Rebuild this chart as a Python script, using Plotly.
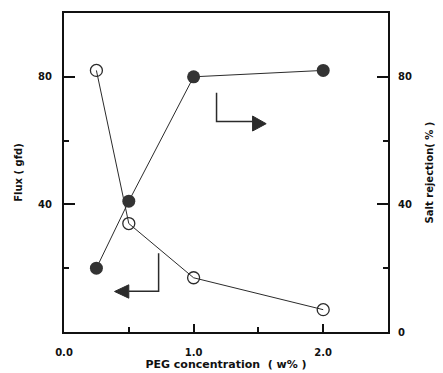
import plotly.graph_objects as go

# PEG concentration (w%)
peg = [0.25, 0.5, 1.0, 2.0]
# Flux (gfd), left axis - open circles
flux = [82, 34, 17, 7]
# Salt rejection (%), right axis - filled circles
rejection = [20, 41, 80, 82]

x_ticks = [0, 1, 2]
x_tick_text = ["0.0", "1.0", "2.0"]
left_ticks = [40, 80]
right_ticks = [0, 40, 80]

INK = "#2b2b2b"
FONT = dict(family="DejaVu Sans, Verdana, sans-serif", size=10, color="#111", weight="bold")

fig = go.Figure()

fig.add_trace(go.Scatter(
    x=peg, y=flux, mode="lines+markers", name="Flux",
    line=dict(color=INK, width=1),
    marker=dict(symbol="circle-open", size=12, color=INK, line=dict(width=1.3)),
    yaxis="y",
))
fig.add_trace(go.Scatter(
    x=peg, y=rejection, mode="lines+markers", name="Salt rejection",
    line=dict(color=INK, width=1),
    marker=dict(symbol="circle", size=13, color="#333333"),
    yaxis="y2",
))

# Direction arrows pointing each curve to its axis
def arrow(points, tip):
    path = "M " + " L ".join(f"{px},{py}" for px, py in points)
    fig.add_shape(type="path", path=path, xref="x", yref="y",
                  line=dict(color=INK, width=1.5))
    (bx, by1, by2, tx, ty) = tip
    tri = f"M {bx},{by1} L {tx},{ty} L {bx},{by2} Z"
    fig.add_shape(type="path", path=tri, xref="x", yref="y",
                  line=dict(color=INK, width=1), fillcolor=INK)

arrow([(1.177, 75), (1.177, 66), (1.455, 66)], (1.455, 67.7, 63.0, 1.56, 65.3))
arrow([(0.73, 24.7), (0.73, 12.8), (0.5, 12.8)], (0.5, 14.8, 10.6, 0.39, 12.7))

axis_common = dict(
    showline=True, linecolor="#111", linewidth=2,
    ticks="inside", tickcolor="#111", tickwidth=1.5,
    showgrid=False, zeroline=False, automargin=False,
    tickfont=FONT,
)

fig.update_layout(
    width=443, height=373,
    margin=dict(l=64, r=55, t=13, b=41),
    paper_bgcolor="white", plot_bgcolor="white",
    showlegend=False,
    xaxis=dict(
        axis_common, range=[0, 2.5], tickvals=x_ticks, ticktext=x_tick_text,
        ticklen=8, mirror=True, ticklabelstandoff=10,
        minor=dict(ticks="inside", tickvals=[0.5, 1.5], ticklen=5, tickcolor="#111", tickwidth=1.5),
        title=dict(text="PEG concentration  ( w% )", standoff=1,
                   font=dict(FONT, size=11)),
    ),
    yaxis=dict(
        axis_common, range=[0, 100], tickvals=left_ticks, ticklen=11,
        ticklabelstandoff=8,
        minor=dict(ticks="inside", tickvals=[20, 60], ticklen=5, tickcolor="#111", tickwidth=1.5),
        title=dict(text="Flux ( gfd)", standoff=14,
                   font=dict(FONT, size=10)),
    ),
    yaxis2=dict(
        axis_common, range=[0, 100], tickvals=right_ticks, ticklen=11,
        overlaying="y", side="right", ticklabelstandoff=6,
        minor=dict(ticks="inside", tickvals=[20, 60], ticklen=5, tickcolor="#111", tickwidth=1.5),
        title=dict(text="Salt rejection( % )", standoff=15,
                   font=dict(FONT, size=10)),
    ),
)

fig.write_html("out.html")
